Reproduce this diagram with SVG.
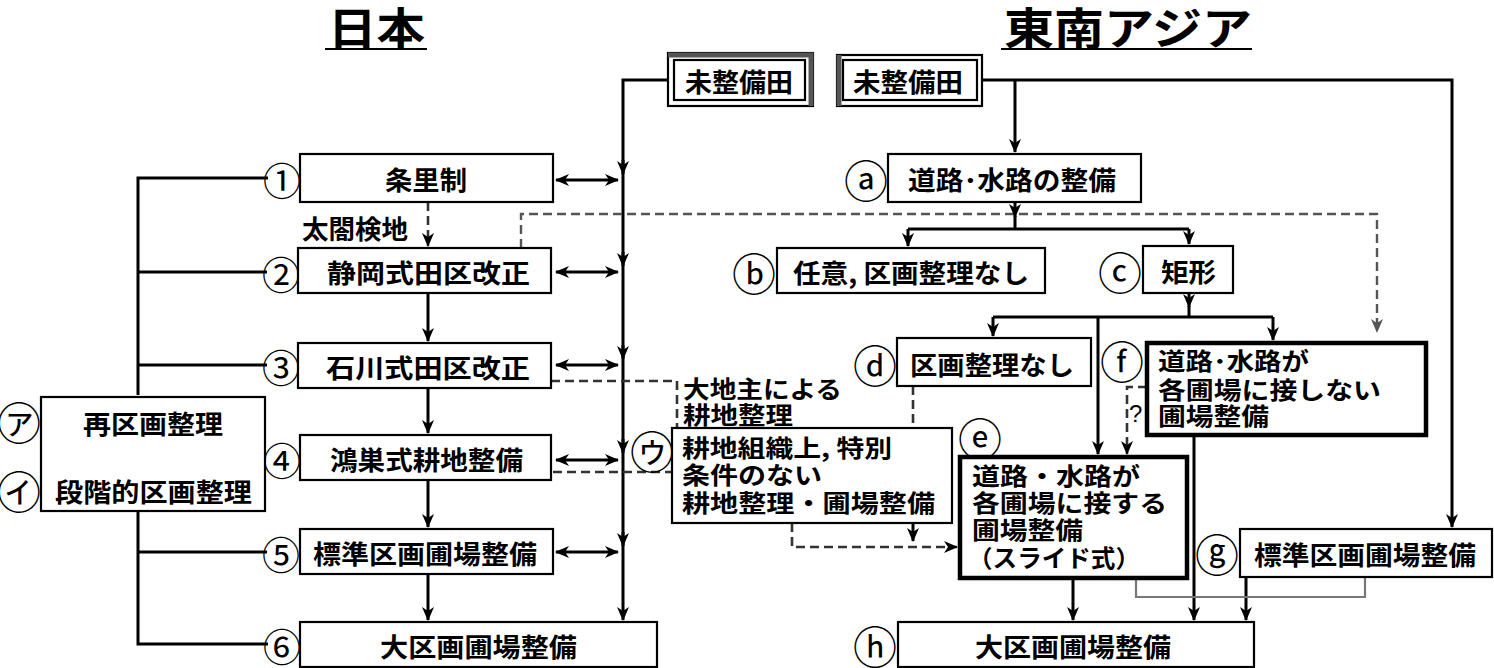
<svg xmlns="http://www.w3.org/2000/svg" width="1494" height="668" viewBox="0 0 1494 668">
<style>
.box{fill:#fff;stroke:#000;stroke-width:2.2}
.thick{fill:#fff;stroke:#000;stroke-width:4.5}
.ln{stroke:#000;stroke-width:3;fill:none}
.dash{stroke:#333;stroke-width:2.6;stroke-dasharray:9 5;fill:none}
.gdash{stroke:#555;stroke-width:2.4;stroke-dasharray:9 5;fill:none}
.t{font-family:"Noto Sans CJK JP","Noto Sans CJK SC",sans-serif;font-size:26px;font-weight:bold;fill:#000;dominant-baseline:central}
.m{font-size:24px}
.ttl{font-family:"Noto Sans CJK JP","Noto Sans CJK SC",sans-serif;font-size:44px;font-weight:bold;fill:#000;dominant-baseline:central}
.cn{font-family:"Noto Sans CJK JP","Noto Sans CJK SC",sans-serif;font-size:38px;fill:#000;dominant-baseline:central;text-anchor:middle}
.cl{font-family:"Noto Sans CJK JP","Noto Sans CJK SC",sans-serif;font-size:44px;fill:#000;dominant-baseline:central;text-anchor:middle}
</style>
<defs>
<marker id="ah" markerUnits="userSpaceOnUse" markerWidth="14" markerHeight="14" viewBox="0 0 14 14" refX="13" refY="7" orient="auto-start-reverse"><path d="M0,1 L14,7 L0,13 L4,7 z" fill="#000"/></marker>
<marker id="ahg" markerUnits="userSpaceOnUse" markerWidth="14" markerHeight="14" viewBox="0 0 14 14" refX="13" refY="7" orient="auto"><path d="M0,1 L14,7 L0,13 L4,7 z" fill="#555"/></marker>
</defs>
<rect width="1494" height="668" fill="#fff"/>

<g id="titles">
<text class="ttl" x="328" y="26" textLength="97" lengthAdjust="spacingAndGlyphs">日本</text>
<line x1="325" y1="49" x2="427" y2="49" stroke="#000" stroke-width="2"/>
<text class="ttl" x="1004" y="26" textLength="248" lengthAdjust="spacingAndGlyphs">東南アジア</text>
<line x1="1001" y1="49" x2="1252" y2="49" stroke="#000" stroke-width="2"/>
</g>

<g id="connectors">
<path class="ln" d="M268,178 H138 V395 M138,511 V644 H268 M138,272 H267 M138,365 H267 M138,552 H267"/>
<path class="ln" d="M668,80 H623 V620" marker-end="url(#ah)"/>
<line class="ln" x1="623" y1="160" x2="623" y2="174" marker-end="url(#ah)"/>
<line class="ln" x1="623" y1="252" x2="623" y2="266" marker-end="url(#ah)"/>
<line class="ln" x1="623" y1="345" x2="623" y2="359" marker-end="url(#ah)"/>
<line class="ln" x1="623" y1="439" x2="623" y2="453" marker-end="url(#ah)"/>
<line class="ln" x1="623" y1="532" x2="623" y2="546" marker-end="url(#ah)"/>
<line class="ln" x1="556" y1="180" x2="618" y2="180" marker-start="url(#ah)" marker-end="url(#ah)"/>
<line class="ln" x1="556" y1="272" x2="618" y2="272" marker-start="url(#ah)" marker-end="url(#ah)"/>
<line class="ln" x1="556" y1="365" x2="618" y2="365" marker-start="url(#ah)" marker-end="url(#ah)"/>
<line class="ln" x1="556" y1="460" x2="618" y2="460" marker-start="url(#ah)" marker-end="url(#ah)"/>
<line class="ln" x1="556" y1="552" x2="618" y2="552" marker-start="url(#ah)" marker-end="url(#ah)"/>
<line class="dash" x1="428" y1="202" x2="428" y2="246" marker-end="url(#ah)"/>
<line class="ln" x1="428" y1="293" x2="428" y2="341" marker-end="url(#ah)"/>
<line class="ln" x1="428" y1="388" x2="428" y2="433" marker-end="url(#ah)"/>
<line class="ln" x1="428" y1="480" x2="428" y2="527" marker-end="url(#ah)"/>
<line class="ln" x1="428" y1="574" x2="428" y2="620" marker-end="url(#ah)"/>
<path class="gdash" d="M521,248 V214 H1377 V332" marker-end="url(#ahg)"/>
<path class="ln" d="M982,80 H1452 V527" marker-end="url(#ah)"/>
<line class="ln" x1="1015" y1="80" x2="1015" y2="152" marker-end="url(#ah)"/>
<line class="ln" x1="1015" y1="202" x2="1015" y2="217" marker-end="url(#ah)"/>
<path class="ln" d="M1015,216 V229 M908,229 H1189"/>
<line class="ln" x1="908" y1="229" x2="908" y2="246" marker-end="url(#ah)"/>
<line class="ln" x1="1189" y1="229" x2="1189" y2="244" marker-end="url(#ah)"/>
<line class="ln" x1="1189" y1="293" x2="1189" y2="307" marker-end="url(#ah)"/>
<path class="ln" d="M1189,306 V317 M993,317 H1273"/>
<line class="ln" x1="993" y1="317" x2="993" y2="336" marker-end="url(#ah)"/>
<line class="ln" x1="1273" y1="317" x2="1273" y2="340" marker-end="url(#ah)"/>
<line class="ln" x1="1098" y1="317" x2="1098" y2="454" marker-end="url(#ah)"/>
<path class="dash" d="M1147,387 H1127 V454" marker-end="url(#ah)"/>
<line class="ln" x1="1194" y1="435" x2="1194" y2="620" marker-end="url(#ah)"/>
<line class="ln" x1="1073" y1="578" x2="1073" y2="620" marker-end="url(#ah)"/>
<line class="ln" x1="1246" y1="577" x2="1246" y2="620" marker-end="url(#ah)"/>
<path d="M1136,578 V597 H1365 V577" fill="none" stroke="#777" stroke-width="2.2"/>
<path class="dash" d="M551,381 H677 V428"/>
<path class="dash" d="M553,472 H672"/>
<path class="dash" d="M913,386 V428"/>
<path class="dash" d="M792,523 V547 H957" marker-end="url(#ah)"/>
<line class="ln" x1="913" y1="523" x2="913" y2="541" marker-end="url(#ah)"/>
<text x="1129" y="413" style="font-family:'Liberation Sans',sans-serif;font-size:24px;dominant-baseline:central">?</text>
</g>

<g id="n1">
<text class="cn" x="282" y="178">①</text>
<rect class="box" x="300" y="154" width="253" height="48"/>
<text class="t" x="385" y="178" textLength="82" lengthAdjust="spacingAndGlyphs">条里制</text>
</g>
<g id="taiko"><text class="t" x="302" y="227" textLength="106" lengthAdjust="spacingAndGlyphs">太閤検地</text></g>
<g id="n2">
<text class="cn" x="281" y="272">②</text>
<rect class="box" x="298" y="248" width="253" height="45"/>
<text class="t" x="327" y="271" textLength="203" lengthAdjust="spacingAndGlyphs">静岡式田区改正</text>
</g>
<g id="n3">
<text class="cn" x="281" y="365">③</text>
<rect class="box" x="298" y="343" width="253" height="45"/>
<text class="t" x="326" y="366" textLength="204" lengthAdjust="spacingAndGlyphs">石川式田区改正</text>
</g>
<g id="n4">
<text class="cn" x="282" y="458">④</text>
<rect class="box" x="300" y="435" width="251" height="45"/>
<text class="t" x="330" y="458" textLength="193" lengthAdjust="spacingAndGlyphs">鴻巣式耕地整備</text>
</g>
<g id="n5">
<text class="cn" x="281" y="552">⑤</text>
<rect class="box" x="300" y="529" width="253" height="45"/>
<text class="t" x="313" y="552" textLength="224" lengthAdjust="spacingAndGlyphs">標準区画圃場整備</text>
</g>
<g id="n6">
<text class="cn" x="282" y="644">⑥</text>
<rect class="box" x="300" y="622" width="357" height="45"/>
<text class="t" x="380" y="645" textLength="197" lengthAdjust="spacingAndGlyphs">大区画圃場整備</text>
</g>
<g id="nA">
<text class="cl" x="19" y="421">㋐</text>
<text class="cl" x="19" y="490">㋑</text>
<rect class="box" x="41" y="397" width="224" height="114"/>
<text class="t" x="83" y="422" textLength="140" lengthAdjust="spacingAndGlyphs">再区画整理</text>
<text class="t" x="55" y="490" textLength="197" lengthAdjust="spacingAndGlyphs">段階的区画整理</text>
</g>
<g id="miseibi-L">
<rect class="box" x="668" y="53" width="145" height="53"/>
<path d="M668,55 H811 V106" fill="none" stroke="#555" stroke-width="5"/>
<rect class="box" x="674" y="60" width="131" height="40"/>
<text class="t" x="685" y="80" textLength="108" lengthAdjust="spacingAndGlyphs">未整備田</text>
</g>
<g id="miseibi-R">
<rect class="box" x="837" y="55" width="145" height="51"/>
<path d="M839,55 V106" fill="none" stroke="#555" stroke-width="5"/>
<rect class="box" x="843" y="60" width="134" height="40"/>
<text class="t" x="853" y="80" textLength="110" lengthAdjust="spacingAndGlyphs">未整備田</text>
</g>
<g id="na">
<text class="cl" x="866" y="179">ⓐ</text>
<rect class="box" x="888" y="154" width="253" height="48"/>
<text class="t" x="908" y="178" textLength="208" lengthAdjust="spacingAndGlyphs">道路･水路の整備</text>
</g>
<g id="nb">
<text class="cl" x="754" y="272">ⓑ</text>
<rect class="box" x="777" y="248" width="268" height="45"/>
<text class="t" x="793" y="271" textLength="236" lengthAdjust="spacingAndGlyphs">任意, 区画整理なし</text>
</g>
<g id="nc">
<text class="cl" x="1120" y="271">ⓒ</text>
<rect class="box" x="1143" y="246" width="90" height="47"/>
<text class="t" x="1161" y="270" textLength="55" lengthAdjust="spacingAndGlyphs">矩形</text>
</g>
<g id="nd">
<text class="cl" x="875" y="364">ⓓ</text>
<rect class="box" x="897" y="338" width="194" height="48"/>
<text class="t" x="910" y="363" textLength="164" lengthAdjust="spacingAndGlyphs">区画整理なし</text>
</g>
<g id="nf">
<text class="cl" x="1122" y="360">ⓕ</text>
<rect class="thick" x="1147" y="343" width="279" height="92"/>
<text class="t m" x="1158" y="359" textLength="151" lengthAdjust="spacingAndGlyphs">道路･水路が</text>
<text class="t m" x="1158" y="388" textLength="223" lengthAdjust="spacingAndGlyphs">各圃場に接しない</text>
<text class="t m" x="1158" y="414" textLength="111" lengthAdjust="spacingAndGlyphs">圃場整備</text>
</g>
<g id="ne">
<text class="cl" x="980" y="437">ⓔ</text>
<rect class="thick" x="960" y="457" width="227" height="121"/>
<text class="t m" x="972" y="474" textLength="168" lengthAdjust="spacingAndGlyphs">道路・水路が</text>
<text class="t m" x="972" y="501" textLength="195" lengthAdjust="spacingAndGlyphs">各圃場に接する</text>
<text class="t m" x="972" y="528" textLength="111" lengthAdjust="spacingAndGlyphs">圃場整備</text>
<text class="t m" x="968" y="556" textLength="172" lengthAdjust="spacingAndGlyphs">（スライド式）</text>
</g>
<g id="nu">
<text class="cl" x="652" y="450">㋒</text>
<rect class="box" x="672" y="428" width="280" height="95"/>
<text class="t m" x="682" y="446" textLength="210" lengthAdjust="spacingAndGlyphs">耕地組織上, 特別</text>
<text class="t m" x="682" y="473" textLength="140" lengthAdjust="spacingAndGlyphs">条件のない</text>
<text class="t m" x="682" y="501" textLength="253" lengthAdjust="spacingAndGlyphs">耕地整理・圃場整備</text>
</g>
<g id="ojinushi">
<text class="t m" x="683" y="387" textLength="159" lengthAdjust="spacingAndGlyphs">大地主による</text>
<text class="t m" x="683" y="413" textLength="110" lengthAdjust="spacingAndGlyphs">耕地整理</text>
</g>
<g id="ng">
<text class="cl" x="1217" y="553">ⓖ</text>
<rect class="box" x="1240" y="529" width="252" height="48"/>
<text class="t" x="1254" y="553" textLength="222" lengthAdjust="spacingAndGlyphs">標準区画圃場整備</text>
</g>
<g id="nh">
<text class="cl" x="875" y="645">ⓗ</text>
<rect class="box" x="898" y="622" width="356" height="45"/>
<text class="t" x="975" y="645" textLength="196" lengthAdjust="spacingAndGlyphs">大区画圃場整備</text>
</g>
</svg>
